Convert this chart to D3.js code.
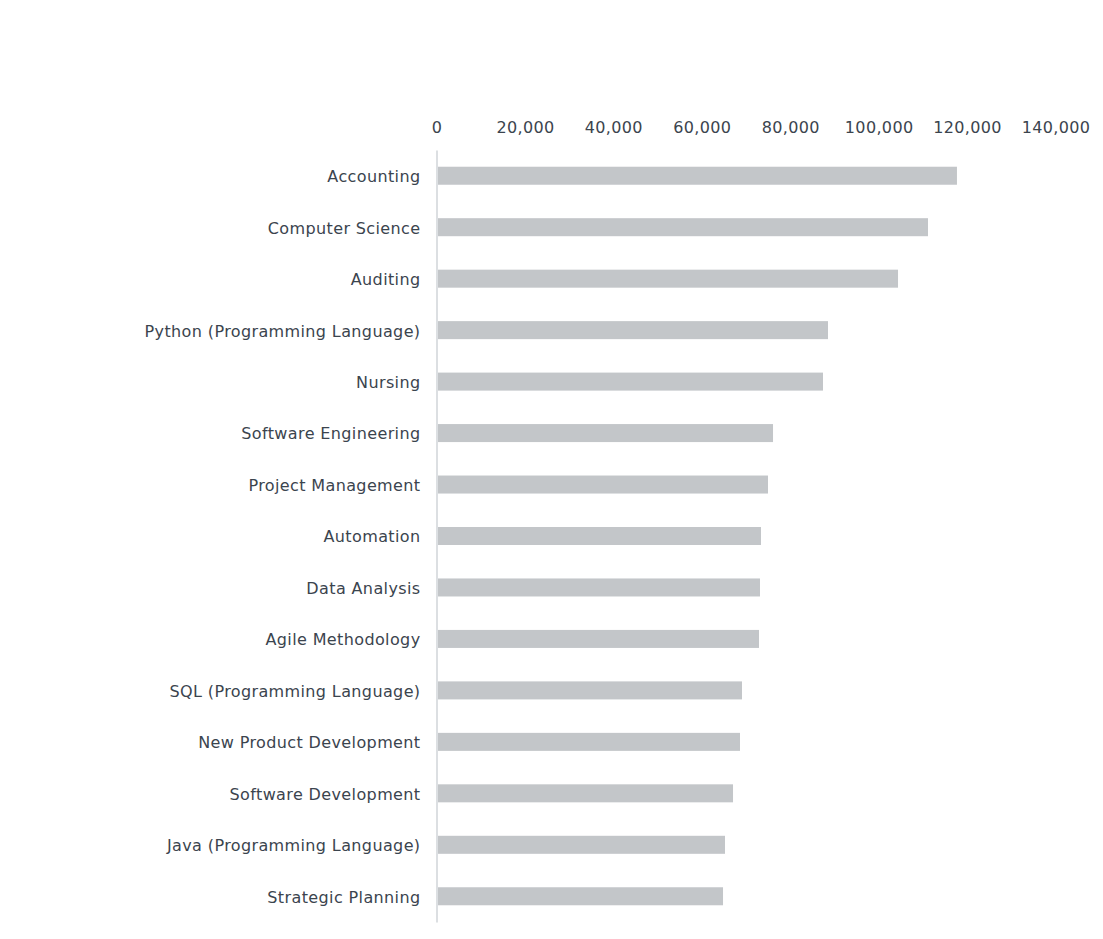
<!DOCTYPE html>
<html>
<head>
<meta charset="utf-8">
<script src="https://cdn.jsdelivr.net/npm/d3@7"></script>
<style>
  html, body { margin: 0; padding: 0; background: #fff; }
  svg { display: block; }
</style>
</head>
<body>
<div id="chart"></div>
<script>
const categories = [
  "Accounting", "Computer Science", "Auditing", "Python (Programming Language)",
  "Nursing", "Software Engineering", "Project Management", "Automation",
  "Data Analysis", "Agile Methodology", "SQL (Programming Language)",
  "New Product Development", "Software Development", "Java (Programming Language)",
  "Strategic Planning"
];
const values = [
  117600, 111050, 104270, 88430, 87300, 76000, 74860, 73280,
  73050, 72830, 68980, 68530, 66950, 65140, 64690
];
const tickValues = [0, 20000, 40000, 60000, 80000, 100000, 120000, 140000];

const W = 1103, H = 939;
const mLeft = 437, mRight = 1056, mTop = 150, mBottom = 922;

const svg = d3.select("#chart").append("svg")
  .attr("width", W).attr("height", H);

const x = d3.scaleLinear().domain([0, 140000]).range([mLeft, mRight]);
const y = d3.scaleBand().domain(categories).range([mTop, mBottom])
  .paddingInner(0.65).paddingOuter(0.325);

const font = "'DejaVu Sans', Verdana, sans-serif";
const textColor = "#3b444e";

// top axis labels
const xAxis = d3.axisTop(x).tickValues(tickValues)
  .tickFormat(d3.format(",")).tickSize(0).tickPadding(0);
const gx = svg.append("g").attr("transform", `translate(-0.5,${133})`).call(xAxis);
gx.select(".domain").remove();
gx.selectAll("text")
  .attr("font-family", font).attr("font-size", 16).attr("fill", textColor)
  .attr("letter-spacing", "0.35px")
  .attr("dy", "0");

// bars
svg.append("g").selectAll("rect").data(categories).join("rect")
  .attr("x", x(0))
  .attr("y", d => y(d))
  .attr("width", (d, i) => x(values[i]) - x(0))
  .attr("height", y.bandwidth())
  .attr("fill", "#c3c6c9");

// left axis
const yAxis = d3.axisLeft(y).tickSize(0).tickPadding(16);
const gy = svg.append("g").attr("transform", `translate(${mLeft - 0.5},0)`).call(yAxis);
gy.select(".domain").attr("stroke", "#dcdfe2").attr("stroke-width", 2);
gy.selectAll("text")
  .attr("font-family", font).attr("font-size", 16).attr("fill", textColor)
  .attr("letter-spacing", "0.38px")
  .attr("dy", "0.4em");
</script>
</body>
</html>
